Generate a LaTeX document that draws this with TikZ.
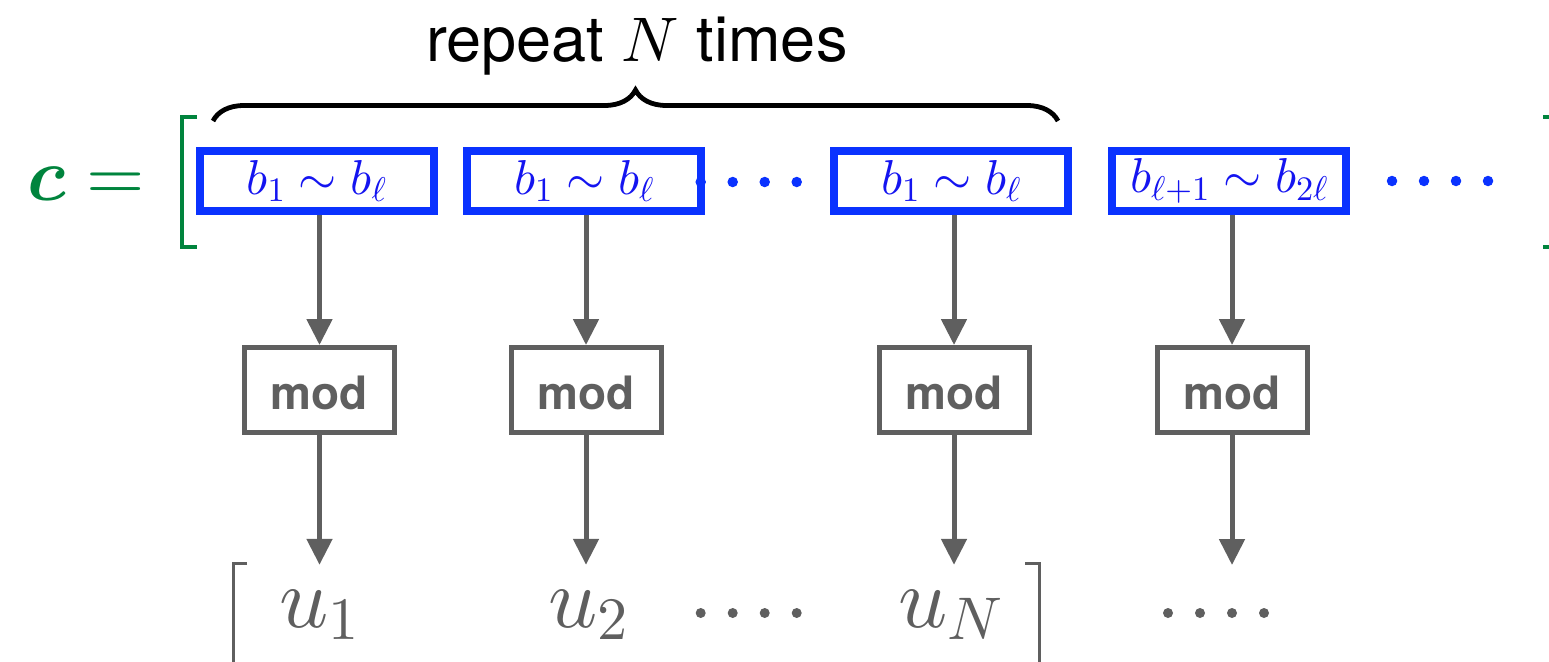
\RequirePackage{fix-cm}
\documentclass[tikz,border=0pt]{standalone}
\usepackage{amsmath,bm}
\usepackage[no-math]{fontspec}
\newfontfamily\hel{TeX Gyre Heros}
\DeclareFontShape{OML}{cmm}{m}{it}{<->cmmi10}{}
\DeclareFontShape{OT1}{cmr}{m}{n}{<->cmr10}{}
\usetikzlibrary{arrows.meta,decorations.pathreplacing}
\definecolor{cgreen}{RGB}{0,132,61}
\definecolor{bblue}{RGB}{10,50,255}
\definecolor{tblue}{RGB}{20,20,240}
\definecolor{gr}{RGB}{95,95,95}
\tikzset{
  bbox/.style={draw=bblue, line width=8pt, minimum width=234pt, minimum height=60pt, inner sep=0pt, text=tblue, font=\fontsize{49}{49}\selectfont},
  modbox/.style={draw=gr, line width=5pt, minimum width=150pt, minimum height=85pt, inner sep=0pt, text=gr, font=\hel\bfseries\fontsize{46}{46}\selectfont},
  arr/.style={draw=gr, line width=5pt, -{Triangle[width=25pt,length=26pt]}},
  unode/.style={anchor=base, inner sep=0pt, text height=62pt, text=gr, font=\fontsize{86}{86}\selectfont},
  bdot/.style={circle, fill=bblue, inner sep=0pt, minimum size=10.5pt},
  gdot/.style={circle, fill=gr, inner sep=0pt, minimum size=10pt},
  gbrack/.style={draw=cgreen, line width=3.3pt},
  ubrack/.style={draw=gr, line width=3pt},
}
\newcommand{\modtxt}{\raisebox{-2.5pt}[33pt][0pt]{mod}}
\begin{document}
\begin{tikzpicture}[x=1pt,y=-1pt]
\clip (0,0) rectangle (1549,661);
\useasboundingbox (0,0) rectangle (1549,661);
% title and brace
\node[anchor=base, inner sep=0pt, font=\hel\fontsize{63}{63}\selectfont] (rep) at (637,61) {repeat $N$ times};
\draw[decorate, decoration={brace, amplitude=31pt}, line width=4.8pt] (213,121) -- (1058,121);
% c =
\node[anchor=base west, inner sep=0pt, text=cgreen, font=\fontsize{75}{75}\selectfont] (ceq) at (27,200) {$\bm{c} =$};
\draw[gbrack] (197,117) -- (182,117) -- (182,247) -- (197,247);
\draw[gbrack] (1543,117) -- (1553,117) -- (1553,247) -- (1543,247);
% blue boxes
\node[bbox] (b1) at (316.5,181) {$b_1\sim b_\ell$};
\node[bbox] (b2) at (584,181) {$b_1\sim b_\ell$};
\node[bbox] (b3) at (951,181) {$b_1\sim b_\ell$};
\node[bbox] (b4) at (1229,181) {$b_{\ell+1}\sim b_{2\ell}$};
\foreach \i/\x in {1/700.7,2/732.7,3/764.7,4/796.7} \node[bdot] (da\i) at (\x,182) {};
\foreach \i/\x in {1/1392,2/1424,3/1456,4/1488} \node[bdot] (db\i) at (\x,181) {};
% mod boxes
\node[modbox] (m1) at (319.5,390) {\modtxt};
\node[modbox] (m2) at (586,390) {\modtxt};
\node[modbox] (m3) at (954,390) {\modtxt};
\node[modbox] (m4) at (1232,390) {\modtxt};
% outputs
\node[unode] (u1) at (319,627) {$u_1$};
\node[unode] (u2) at (588,627) {$u_2$};
\node[unode] (uN) at (951,627) {$u_N$};
\coordinate (u4) at (1232,565);
\foreach \i/\x in {1/700.7,2/732.7,3/764.7,4/796.7} \node[gdot] (ga\i) at (\x,613) {};
\foreach \i/\x in {1/1168,2/1200,3/1232,4/1264} \node[gdot] (gb\i) at (\x,613) {};
\draw[ubrack] (247,563) -- (233,563) -- (233,670);
\draw[ubrack] (1025,563) -- (1039,563) -- (1039,670);
% arrows
\draw[arr] (m1.north |- b1.south) -- (m1.north);
\draw[arr] (m2.north |- b2.south) -- (m2.north);
\draw[arr] (m3.north |- b3.south) -- (m3.north);
\draw[arr] (m4.north |- b4.south) -- (m4.north);
\draw[arr] (m1.south) -- (m1.south |- u1.north);
\draw[arr] (m2.south) -- (m2.south |- u2.north);
\draw[arr] (m3.south) -- (m3.south |- uN.north);
\draw[arr] (m4.south) -- (u4);
\end{tikzpicture}
\end{document}
